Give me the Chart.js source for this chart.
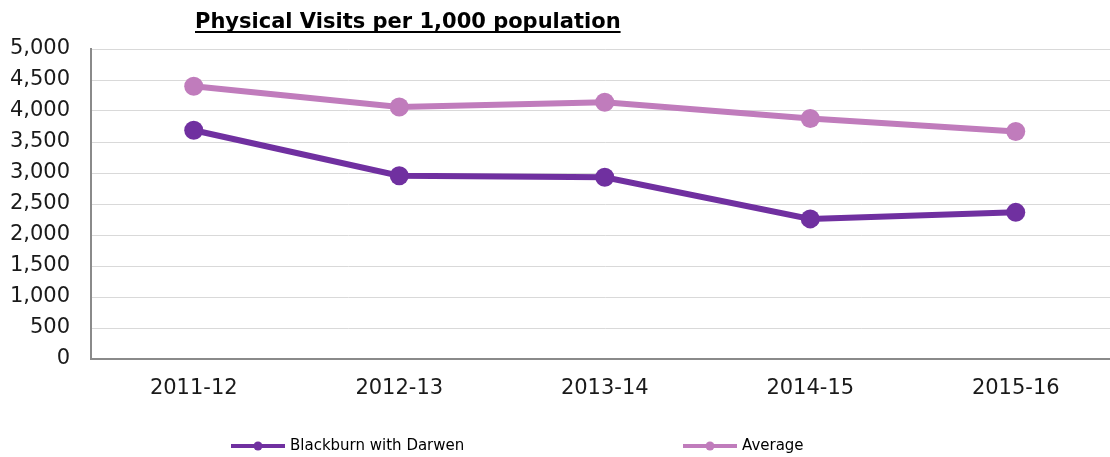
<!DOCTYPE html>
<html>
<head>
<meta charset="utf-8">
<script src="https://cdn.jsdelivr.net/npm/chart.js@4.4.1/dist/chart.umd.min.js"></script>
<style>
  html, body { margin: 0; padding: 0; background: #fff; overflow: hidden; }
  #wrap { position: relative; width: 1128px; height: 457px; }
</style>
</head>
<body>
<div id="wrap"><canvas id="c"></canvas></div>
<script>
const categories = ['2011-12', '2012-13', '2013-14', '2014-15', '2015-16'];
const blackburn = [3690, 2955, 2930, 2260, 2365];
const average = [4400, 4065, 4140, 3880, 3670];
const seriesNames = ['Blackburn with Darwen', 'Average'];
const yTicks = [0, 500, 1000, 1500, 2000, 2500, 3000, 3500, 4000, 4500, 5000];
const titleText = 'Physical Visits per 1,000 population';

const FONT = '"DejaVu Sans", Verdana, sans-serif';

const titlePlugin = {
  id: 'ulTitle',
  afterDraw(chart) {
    const ctx = chart.ctx;
    ctx.save();
    ctx.font = 'bold 21px ' + FONT;
    ctx.fillStyle = '#000';
    ctx.textBaseline = 'alphabetic';
    ctx.textAlign = 'left';
    const x = 195, y = 28;
    ctx.fillText(titleText, x, y);
    const w = ctx.measureText(titleText).width;
    ctx.fillRect(x, y + 3, w, 2);
    ctx.restore();
  }
};

const legendPlugin = {
  id: 'customLegend',
  afterDraw(chart) {
    const ctx = chart.ctx;
    const xs = [231, 683];
    const y = 446;
    ctx.save();
    chart.data.datasets.forEach((ds, i) => {
      const x0 = xs[i];
      ctx.strokeStyle = ds.borderColor;
      ctx.lineWidth = 4;
      ctx.beginPath();
      ctx.moveTo(x0, y);
      ctx.lineTo(x0 + 54, y);
      ctx.stroke();
      ctx.fillStyle = ds.borderColor;
      ctx.beginPath();
      ctx.arc(x0 + 27, y, 4.5, 0, Math.PI * 2);
      ctx.fill();
      ctx.fillStyle = '#000';
      ctx.font = '15px ' + FONT;
      ctx.textBaseline = 'middle';
      ctx.textAlign = 'left';
      ctx.fillText(ds.label, x0 + 59, y);
    });
    ctx.restore();
  }
};

new Chart(document.getElementById('c'), {
  type: 'line',
  data: {
    labels: categories,
    datasets: [
      {
        label: seriesNames[0],
        data: blackburn,
        borderColor: '#7030A0',
        backgroundColor: '#7030A0',
        borderWidth: 6,
        pointRadius: 9.5,
        pointHoverRadius: 9.5,
        pointBorderWidth: 0,
        tension: 0
      },
      {
        label: seriesNames[1],
        data: average,
        borderColor: '#C07CBC',
        backgroundColor: '#C07CBC',
        borderWidth: 6,
        pointRadius: 9.5,
        pointHoverRadius: 9.5,
        pointBorderWidth: 0,
        tension: 0
      }
    ]
  },
  options: {
    responsive: true,
    maintainAspectRatio: false,
    animation: false,
    layout: { padding: { top: 49, left: 0, right: 6, bottom: 0 } },
    plugins: {
      legend: { display: false },
      title: { display: false },
      tooltip: { enabled: false }
    },
    scales: {
      x: {
        type: 'category',
        offset: true,
        grid: { display: false, drawTicks: false },
        border: { display: true, color: '#8a8a8a', width: 2 },
        ticks: {
          color: '#1a1a1a',
          font: { family: FONT, size: 21 },
          padding: 17,
          maxRotation: 0,
          autoSkip: false
        },
        afterFit(scale) { scale.height = 98; }
      },
      y: {
        min: 0,
        max: 5000,
        afterBuildTicks(scale) { scale.ticks = yTicks.map(v => ({ value: v })); },
        grid: { color: '#d9d9d9', lineWidth: 1, drawTicks: false },
        border: { display: true, color: '#8a8a8a', width: 2 },
        ticks: {
          color: '#1a1a1a',
          font: { family: FONT, size: 21 },
          padding: 21,
          callback: v => v.toLocaleString('en-US')
        },
        afterFit(scale) { scale.width = 91; }
      }
    }
  },
  plugins: [titlePlugin, legendPlugin]
});
</script>
</body>
</html>
